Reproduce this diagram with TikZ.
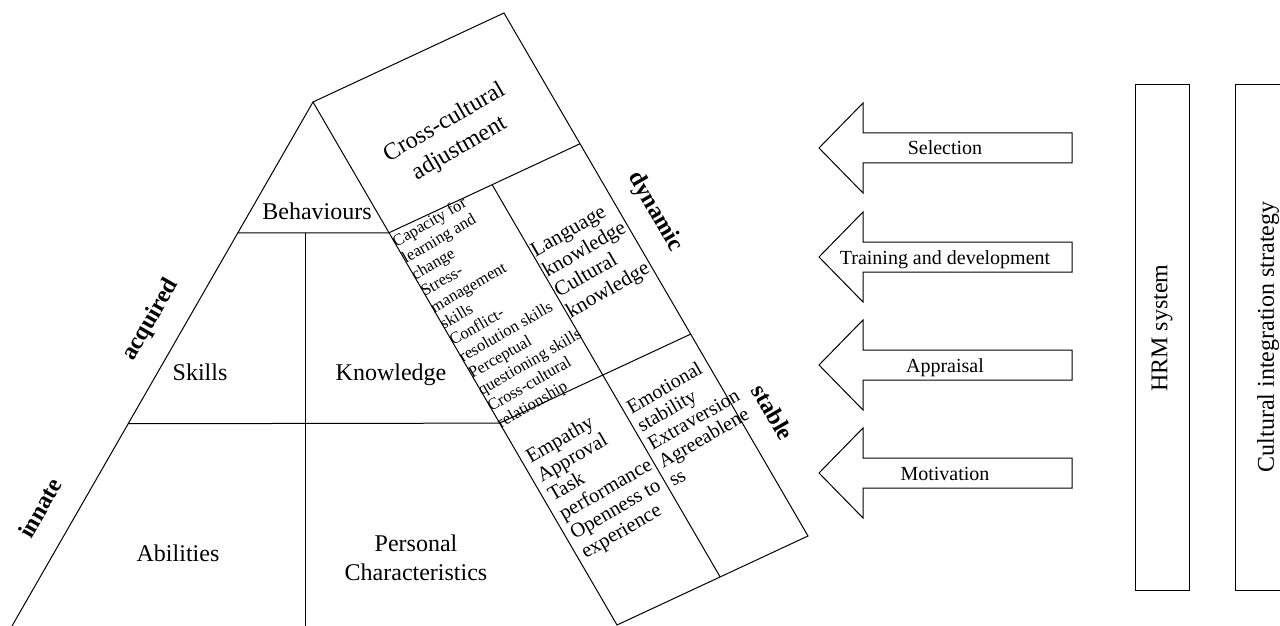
\documentclass[tikz,border=0pt]{standalone}
\usepackage{fontspec}
\setmainfont{Liberation Serif}
\usetikzlibrary{calc}
\tikzstyle{lbl} = [inner sep=0pt, font=\fontsize{12}{14.5}\selectfont]
\tikzstyle{side} = [inner sep=0pt, font=\fontsize{12}{14.5}\selectfont\bfseries]
\tikzstyle{cell} = [inner sep=0pt, rotate=30, align=left, anchor=north west]

\begin{document}
\begin{tikzpicture}[x=0.5pt, y=-0.5pt, line width=0.5pt]
    \useasboundingbox (0,0) rectangle (1280,626);
    \clip (0,0) rectangle (1280,626);

    % corners
    \coordinate (A) at (313,102);
    \coordinate (B) at (504,13);
    \coordinate (C) at (808,536);
    \coordinate (D) at (617,625);
    \coordinate (L) at (12,626);
    \coordinate (V) at (305,626);
    \coordinate (P1) at ($(A)!0.25!(D)$);
    \coordinate (Q1) at ($(B)!0.25!(C)$);
    \coordinate (P2) at ($(A)!0.614!(D)$);
    \coordinate (Q2) at ($(B)!0.614!(C)$);
    \coordinate (M1) at ($(P1)!0.54!(Q1)$);
    \coordinate (M2) at ($(D)!0.54!(C)$);

    % triangle
    \draw (L) -- (A);
    \draw ($(A)!0.25!(L)$) -- (P1);
    \draw ($(A)!0.614!(L)$) -- (P2);
    \draw (V |- P1) -- (V);

    % tilted block
    \draw (A) -- (B) -- (C) -- (D) -- cycle;
    \draw (P1) -- (Q1);
    \draw (P2) -- (Q2);
    \draw (M1) -- (M2);

    % labels of the triangle
    \node[lbl] (beh) at (317,211) {Behaviours};
    \node[lbl] (skl) at (200,372) {Skills};
    \node[lbl] (knw) at (391,375) {Knowledge};
    \node[lbl] (abl) at (178,553) {Abilities};
    \node[lbl, align=center] (pers) at (416,558) {Personal\\Characteristics};
    \node[side, rotate=60] (acq) at (151,320) {acquired};
    \node[side, rotate=60] (inn) at (40,508) {innate};

    % labels of the tilted block
    \node[lbl, rotate=30, align=center, font=\fontsize{12}{15}\selectfont] (cca) at (452,136)
    {Cross-cultural\\adjustment};
    \node[cell, font=\fontsize{8.25}{9.5}\selectfont] (cap) at (390,237)
    {Capacity for\\learning and\\change\\Stress-\\management\\skills\\Conflict-\\resolution skills\\Perceptual\\questioning skills\\Cross-cultural\\relationship};
    \node[cell, font=\fontsize{10.5}{11.8}\selectfont] (lang) at (528,245)
    {Language\\knowledge\\Cultural\\knowledge};
    \node[cell, font=\fontsize{10.25}{11}\selectfont] (emp) at (523,451)
    {Empathy\\Approval\\Task\\performance\\Openness to\\experience};
    \node[cell, font=\fontsize{10}{10.5}\selectfont] (emo) at (624,402)
    {Emotional\\stability\\Extraversion\\Agreeablene\\ss};
    \node[side, rotate=-60] (dyn) at (655,212) {dynamic};
    \node[side, rotate=-60] (stb) at (773,412) {stable};

    % arrows
    \foreach \y/\txt [count=\i] in {148/Selection, 257/Training and development, 365/Appraisal, 473/Motivation} {
        \draw (819,\y) -- (863,\y-45) -- (863,\y-15) -- (1072,\y-15)
        -- (1072,\y+15) -- (863,\y+15) -- (863,\y+45) -- cycle;
        \node[anchor=base, inner sep=0pt, font=\fontsize{10}{12}\selectfont] (arr\i) at (945,\y+7) {\txt};
    }

    % systems
    \draw (1135,85) rectangle (1189,590);
    \node[lbl, rotate=90] (hrm) at (1162,328) {HRM system};
    \draw (1235,85) rectangle (1300,590);
    \node[lbl, rotate=90] (cis) at (1268,337) {Cultural integration strategy};
\end{tikzpicture}
\end{document}
